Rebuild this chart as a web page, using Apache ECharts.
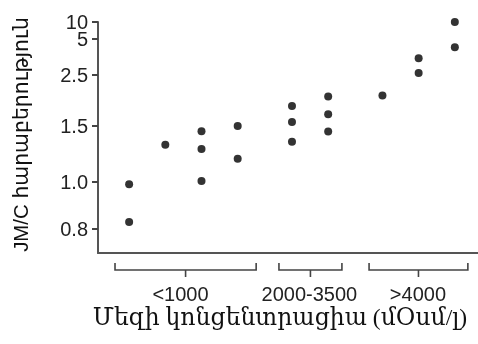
<!DOCTYPE html>
<html>
<head>
<meta charset="utf-8">
<script src="https://cdn.jsdelivr.net/npm/echarts@6/dist/echarts.min.js"></script>
<style>html,body{margin:0;padding:0;background:#fff}#c{width:478px;height:344px}</style>
</head>
<body>
<div id="c"></div>
<script>
// ---- data ----
const xPos = [0, 0, 1, 2, 2, 2, 3, 3, 4.5, 4.5, 4.5, 5.5, 5.5, 5.5, 7, 8, 8, 9, 9];
const ratio = [0.99, 0.83, 1.333, 1.453, 1.295, 1.01, 1.5, 1.208, 1.89, 1.578, 1.36, 2.08, 1.73, 1.45, 2.10, 3.66, 2.64, 10, 4.42];
const groups = ['<1000', '2000-3500', '>4000'];
const groupStart = [-0.39, 4.14, 6.63];
const groupEnd = [3.51, 5.88, 9.36];
const groupLabelAt = [1.42, 4.98, 7.98];
const yTickValues = [0.8, 1.0, 1.5, 2.5, 5, 10];
const yTickLabels = ['0.8', '1.0', '1.5', '2.5', '5', '10'];
const xTitle = 'Մեզի կոնցենտրացիա (մՕսմ/լ)';
const yTitle = 'JM/C հարաբերություն';

// ---- non-uniform y scale (piecewise linear between tick values) ----
const yTickScale = [24, 71, 127, 178, 214, 231];
function toScale(v) {
  for (let i = 0; i < yTickValues.length - 1; i++) {
    const a = yTickValues[i], b = yTickValues[i + 1];
    if (v <= b || i === yTickValues.length - 2) {
      return yTickScale[i] + (v - a) / (b - a) * (yTickScale[i + 1] - yTickScale[i]);
    }
  }
}
const X_MIN = -0.86, X_MAX = 9.64;
const points = xPos.map((x, i) => [x, toScale(ratio[i])]);
const bracketData = groups.map((g, i) => [groupStart[i], groupEnd[i], groupLabelAt[i], g]);

const chart = echarts.init(document.getElementById('c'));
const sans = "'Liberation Sans', 'DejaVu Sans', Arial, sans-serif";
const serif = "'Liberation Serif', 'DejaVu Serif', serif";
chart.setOption({
  animation: false,
  grid: { left: 98, right: 0, top: 22, bottom: 91 },
  xAxis: {
    type: 'value', min: X_MIN, max: X_MAX,
    axisLine: { show: true, onZero: false, lineStyle: { color: '#555', width: 2 } },
    axisTick: { show: false }, axisLabel: { show: false }, splitLine: { show: false },
    name: xTitle, nameLocation: 'middle', nameGap: 54,
    nameTextStyle: { fontFamily: serif, fontSize: 23.5, color: '#111', padding: [0, 0, 0, -16] }
  },
  yAxis: {
    type: 'value', min: 0, max: 231,
    axisLine: { show: true, onZero: false, lineStyle: { color: '#555', width: 2 } },
    axisTick: { show: false }, axisLabel: { show: false }, splitLine: { show: false },
    name: yTitle, nameLocation: 'middle', nameRotate: 90, nameGap: 66,
    nameTextStyle: { fontFamily: sans, fontSize: 20.4, color: '#111', padding: [0, 0, 0, 6] }
  },
  series: [
    {
      type: 'scatter', data: points, symbol: 'circle', symbolSize: 8,
      itemStyle: { color: '#000' }, silent: true
    },
    {
      type: 'custom', coordinateSystem: 'cartesian2d', clip: false, silent: true,
      data: yTickValues.map(v => [0, toScale(v)]),
      encode: { x: 0, y: 1 },
      renderItem: function (params, api) {
        const y = api.coord([0, api.value(1)])[1];
        const x0 = params.coordSys.x;
        return {
          type: 'text', x: x0 - 10, y: y + 1,
          style: { text: yTickLabels[params.dataIndex], align: 'right', verticalAlign: 'middle', font: '20px ' + sans, fill: '#222' }
        };
      }
    },
    {
      type: 'custom', data: bracketData, encode: { x: [0, 1, 2], y: -1 }, clip: false, silent: true,
      renderItem: function (params, api) {
        const s = api.coord([api.value(0), 0])[0];
        const e = api.coord([api.value(1), 0])[0];
        const c = (s + e) / 2;
        const lx = api.coord([api.value(2), 0])[0];
        const yb = params.coordSys.y + params.coordSys.height;
        const st = { stroke: '#444', lineWidth: 1.6, fill: null };
        return {
          type: 'group', children: [
            { type: 'polyline', shape: { points: [[s, yb + 10], [s, yb + 17], [e, yb + 17], [e, yb + 10]] }, style: st },
            { type: 'line', shape: { x1: c, y1: yb + 17, x2: c, y2: yb + 24 }, style: st },
            { type: 'text', x: lx, y: yb + 42, style: { text: groups[params.dataIndex], align: 'center', verticalAlign: 'middle', font: '20px ' + sans, fill: '#222' } }
          ]
        };
      }
    }
  ]
});
// y-axis tick marks, positioned through the chart's own coordinate conversion
const tickGraphics = yTickValues.map(v => {
  const p = chart.convertToPixel({ gridIndex: 0 }, [X_MIN, toScale(v)]);
  return { type: 'rect', z: 100, shape: { x: p[0] - 6, y: Math.round(p[1]) - 1, width: 6, height: 2 }, style: { fill: '#444' }, silent: true };
});
chart.setOption({ graphic: { elements: tickGraphics } });
</script>
</body>
</html>
